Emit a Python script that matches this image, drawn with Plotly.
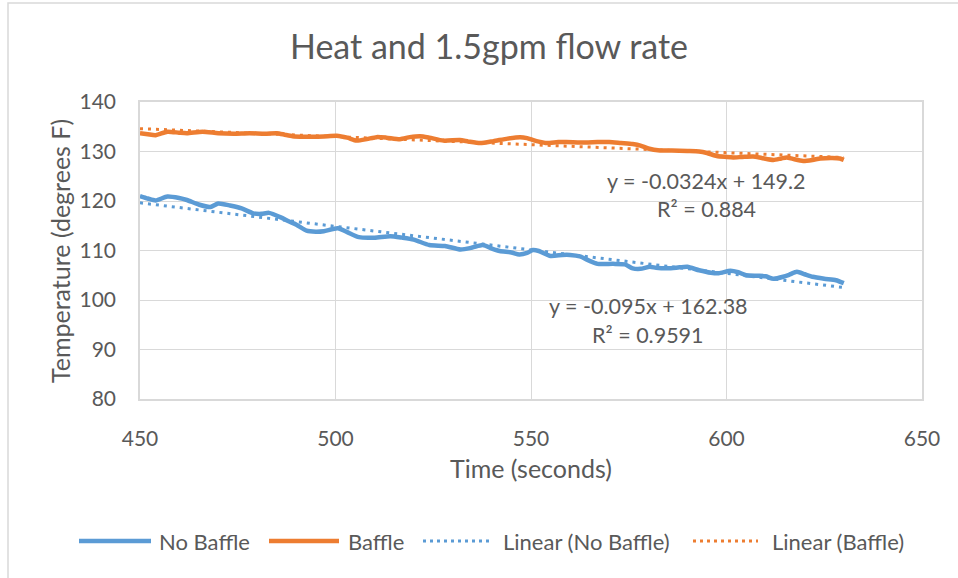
import plotly.graph_objects as go

# ---- data ----
nobaffle_t = [450, 452, 454, 457, 460, 462, 465, 468, 470, 473, 476, 479, 481, 483, 486, 488, 490,
              492.6, 495, 497, 500.6, 503, 506, 510, 514, 517, 520, 524, 528, 532, 535, 537.7, 540,
              542, 545, 547, 549, 550.5, 552, 555, 558, 560, 562.5, 565, 567, 571, 574, 576, 578,
              580.4, 582, 585, 588, 590, 593, 596, 598, 601, 603, 605, 608, 610, 612, 614.5, 616,
              618, 620, 622, 625, 628, 630]
nobaffle_temp = [121.0, 120.5, 120.1, 120.9, 120.6, 120.2, 119.3, 118.8, 119.5, 119.1, 118.5, 117.5,
                 117.4, 117.6, 116.7, 115.9, 115.2, 114.0, 113.8, 113.9, 114.5, 113.7, 112.7, 112.6,
                 112.9, 112.6, 112.2, 111.1, 110.9, 110.2, 110.6, 111.1, 110.4, 109.9, 109.6, 109.2,
                 109.5, 110.1, 109.9, 108.9, 109.1, 109.1, 108.8, 107.9, 107.3, 107.3, 107.2, 106.4,
                 106.3, 106.7, 106.5, 106.4, 106.6, 106.7, 106.0, 105.5, 105.4, 105.9, 105.6, 105.0,
                 104.9, 104.8, 104.3, 104.7, 105.1, 105.7, 105.2, 104.7, 104.3, 104.0, 103.4]

baffle_t = [450, 452, 454, 457, 460, 462, 466, 470, 474, 478, 482, 485, 487, 489, 492, 495, 498,
            500.3, 503, 505.4, 508, 510.5, 513, 516.5, 519, 521.6, 524, 527.6, 531.8, 534, 537,
            540.4, 544, 547.2, 549, 550.6, 552, 554, 557, 559, 564, 567, 570, 573, 576, 578, 580,
            583, 586, 590, 593, 595, 597.5, 600, 601.7, 604, 606.8, 609, 612, 614, 615.4, 617,
            619.6, 622, 624, 627, 629, 630]
baffle_temp = [133.7, 133.5, 133.3, 134.0, 133.8, 133.7, 134.0, 133.7, 133.6, 133.7, 133.6, 133.7,
               133.4, 133.1, 133.0, 133.0, 133.1, 133.2, 132.8, 132.2, 132.5, 132.9, 132.8, 132.5,
               132.9, 133.1, 132.8, 132.2, 132.3, 132.0, 131.7, 132.1, 132.6, 132.9, 132.7, 132.3,
               132.0, 131.7, 131.9, 131.9, 131.8, 131.9, 131.9, 131.7, 131.5, 131.2, 130.6, 130.2,
               130.2, 130.1, 130.0, 129.7, 129.1, 128.9, 128.8, 128.9, 129.0, 128.7, 128.3, 128.6,
               128.8, 128.5, 128.1, 128.3, 128.6, 128.7, 128.6, 128.3]

# trendline coefficients (as printed on the chart)
nobaffle_slope, nobaffle_intercept = -0.095, 162.38
baffle_slope, baffle_intercept = -0.0324, 149.2
trend_t = [450, 630]

x_ticks = [450, 500, 550, 600, 650]
y_ticks = [80, 90, 100, 110, 120, 130, 140]

series_names = ["No Baffle", "Baffle", "Linear (No Baffle)", "Linear (Baffle)"]
eq_nobaffle = ["y = -0.095x + 162.38", "R² = 0.9591"]
eq_baffle = ["y = -0.0324x + 149.2", "R² = 0.884"]

BLUE = "#5B9BD5"
ORANGE = "#ED7D31"
GRID = "#D9D9D9"
TXT = "#595959"
FONT = "Lato"

W, H = 958, 578
ML, MR, MT, MB = 140, 36, 102, 179
PW, PH = W - ML - MR, H - MT - MB


def px(xp):
    return (xp - ML) / PW


def py(yp):
    return (H - MB - yp) / PH


fig = go.Figure()
fig.add_trace(go.Scatter(x=nobaffle_t, y=nobaffle_temp, mode="lines", name=series_names[0],
                         line=dict(color=BLUE, width=4.5, shape="spline", smoothing=0.6)))
fig.add_trace(go.Scatter(x=baffle_t, y=baffle_temp, mode="lines", name=series_names[1],
                         line=dict(color=ORANGE, width=4.5, shape="spline", smoothing=0.6)))
fig.add_trace(go.Scatter(x=trend_t, y=[nobaffle_slope * t + nobaffle_intercept for t in trend_t],
                         mode="lines", name=series_names[2],
                         line=dict(color=BLUE, width=3, dash="3px,5px")))
fig.add_trace(go.Scatter(x=trend_t, y=[baffle_slope * t + baffle_intercept for t in trend_t],
                         mode="lines", name=series_names[3],
                         line=dict(color=ORANGE, width=3, dash="3px,5px")))

annotations = []
# trend equations
for i, txt in enumerate(eq_baffle):
    annotations.append(dict(x=px(706), y=py(181 + 28 * i), xref="paper", yref="paper", text=txt,
                            showarrow=False, xanchor="center", yanchor="middle",
                            font=dict(family=FONT, size=21.5, color=TXT)))
for i, txt in enumerate(eq_nobaffle):
    annotations.append(dict(x=px(648), y=py(306 + 29 * i), xref="paper", yref="paper", text=txt,
                            showarrow=False, xanchor="center", yanchor="middle",
                            font=dict(family=FONT, size=21.5, color=TXT)))
# axis titles
annotations.append(dict(x=px(531), y=py(468), xref="paper", yref="paper", text="Time (seconds)",
                        showarrow=False, xanchor="center", yanchor="middle",
                        font=dict(family=FONT, size=25, color=TXT)))
annotations.append(dict(x=px(60), y=py(251), xref="paper", yref="paper",
                        text="Temperature (degrees F)", textangle=-90,
                        showarrow=False, xanchor="center", yanchor="middle",
                        font=dict(family=FONT, size=25, color=TXT)))

# custom legend
legend_items = [
    (series_names[0], BLUE, None, 79, 151, 157),
    (series_names[1], ORANGE, None, 269, 339, 346),
    (series_names[2], BLUE, "dot", 423, 490, 501),
    (series_names[3], ORANGE, "dot", 693, 758, 770),
]
shapes = []
LY = 541
for name, col, dash, x0, x1, tx in legend_items:
    shapes.append(dict(type="line", xref="paper", yref="paper", x0=px(x0), x1=px(x1),
                       y0=py(LY), y1=py(LY),
                       line=dict(color=col, width=4.5 if dash is None else 3,
                                 dash="solid" if dash is None else "3px,4px")))
    annotations.append(dict(x=px(tx), y=py(LY), xref="paper", yref="paper", text=name,
                            showarrow=False, xanchor="left", yanchor="middle",
                            font=dict(family=FONT, size=22, color=TXT)))

# outer chart border
shapes.append(dict(type="rect", xref="paper", yref="paper", x0=px(8), x1=px(970), y0=py(590),
                   y1=py(3), line=dict(color=GRID, width=1.5), layer="below"))

fig.update_layout(
    width=W, height=H,
    margin=dict(l=ML, r=MR, t=MT, b=MB, pad=0),
    paper_bgcolor="white", plot_bgcolor="white",
    showlegend=False,
    title=dict(text="Heat and 1.5gpm flow rate", x=489 / W, xref="container", xanchor="center",
               y=1 - 47 / H, yref="container", yanchor="middle",
               font=dict(family=FONT, size=34, color=TXT)),
    xaxis=dict(range=[450, 650], tickvals=x_ticks, ticktext=[str(v) for v in x_ticks],
               showgrid=True, gridcolor=GRID, gridwidth=1, zeroline=False,
               showline=True, linecolor=GRID, linewidth=1.5, mirror=True,
               ticks="outside", ticklen=20, tickcolor="rgba(0,0,0,0)",
               tickfont=dict(family=FONT, size=21, color=TXT)),
    yaxis=dict(range=[80, 140], tickvals=y_ticks, ticktext=[str(v) for v in y_ticks],
               showgrid=True, gridcolor=GRID, gridwidth=1, zeroline=False,
               showline=True, linecolor=GRID, linewidth=1.5, mirror=True,
               ticks="outside", ticklen=18, tickcolor="rgba(0,0,0,0)",
               tickfont=dict(family=FONT, size=21, color=TXT)),
    annotations=annotations,
    shapes=shapes,
)

fig.write_html("out.html")
